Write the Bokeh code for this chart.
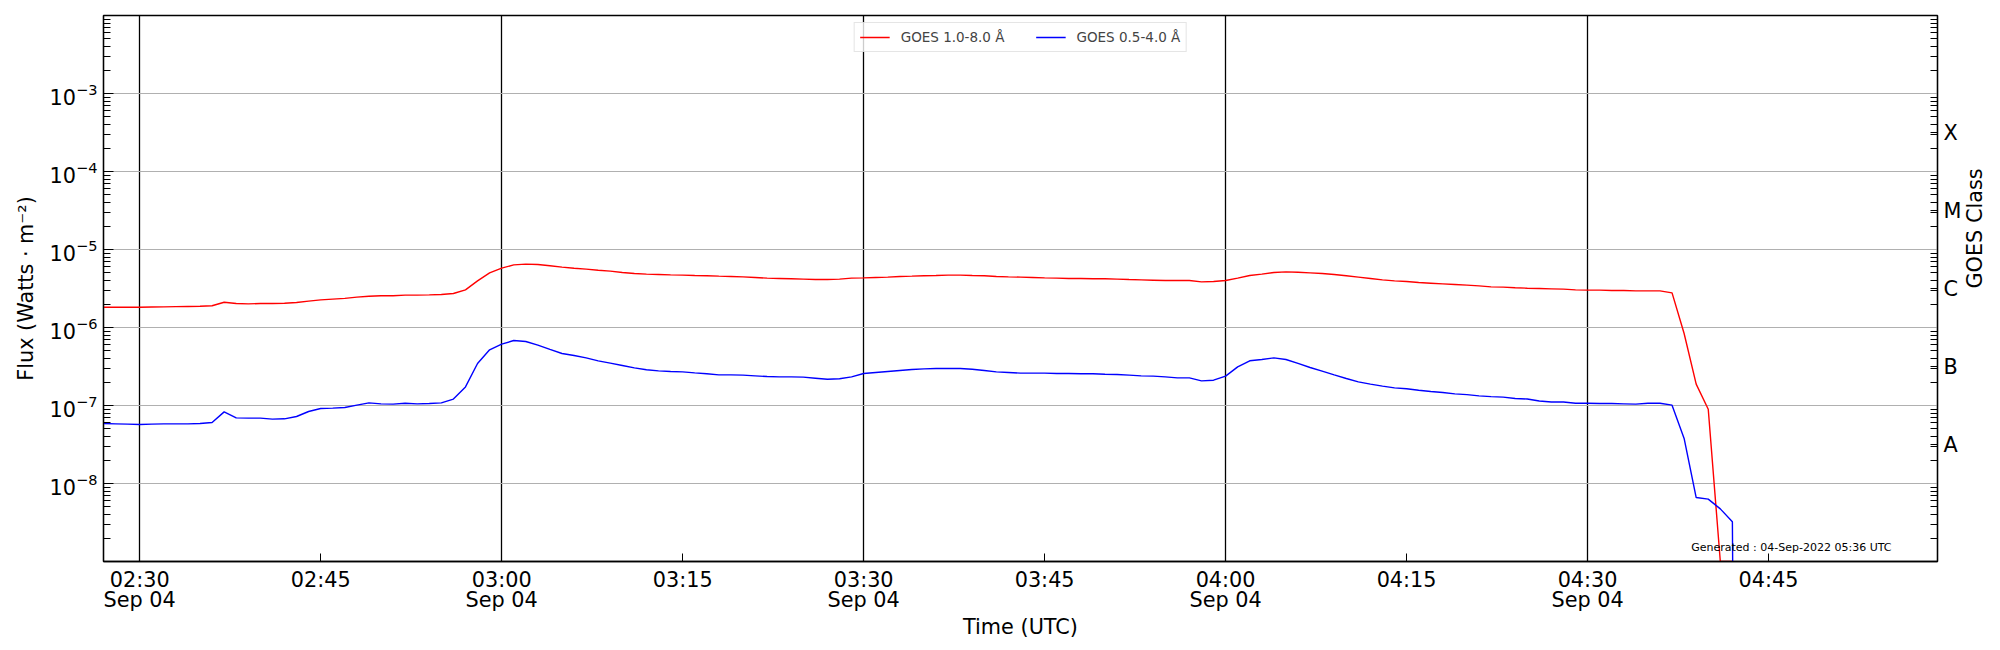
import math
import numpy as np
import pandas as pd
from bokeh.plotting import figure
from bokeh.models import LogAxis, FixedTicker, CustomJSTickFormatter, Label, Range1d
from bokeh.embed import file_html
from bokeh.resources import INLINE

# ---------------- data ----------------
start_time = "2022-09-04 02:27"          # first 1-minute sample
x_start = "2022-09-04 02:27"
x_end = "2022-09-04 04:59"
y_min, y_max = 1e-9, 1e-2

# GOES 1.0-8.0 Å (W m^-2), 1-minute cadence
flux_long = [
    1.82e-6, 1.82e-6, 1.82e-6, 1.82e-6, 1.83e-6, 1.84e-6, 1.85e-6, 1.86e-6, 1.87e-6, 1.90e-6,
    2.11e-6, 2.03e-6, 2.01e-6, 2.03e-6, 2.03e-6, 2.05e-6, 2.09e-6, 2.18e-6, 2.26e-6, 2.31e-6,
    2.36e-6, 2.45e-6, 2.52e-6, 2.55e-6, 2.55e-6, 2.60e-6, 2.60e-6, 2.62e-6, 2.65e-6, 2.73e-6,
    3.04e-6, 3.96e-6, 5.02e-6, 5.77e-6, 6.35e-6, 6.49e-6, 6.43e-6, 6.18e-6, 5.94e-6, 5.76e-6,
    5.60e-6, 5.43e-6, 5.28e-6, 5.07e-6, 4.92e-6, 4.83e-6, 4.78e-6, 4.73e-6, 4.69e-6, 4.64e-6,
    4.60e-6, 4.55e-6, 4.51e-6, 4.46e-6, 4.38e-6, 4.29e-6, 4.25e-6, 4.21e-6, 4.17e-6, 4.12e-6,
    4.12e-6, 4.17e-6, 4.29e-6, 4.33e-6, 4.38e-6, 4.42e-6, 4.51e-6, 4.55e-6, 4.60e-6, 4.64e-6,
    4.69e-6, 4.69e-6, 4.64e-6, 4.60e-6, 4.51e-6, 4.46e-6, 4.42e-6, 4.38e-6, 4.33e-6, 4.29e-6,
    4.25e-6, 4.25e-6, 4.21e-6, 4.21e-6, 4.17e-6, 4.12e-6, 4.08e-6, 4.04e-6, 4.00e-6, 4.00e-6,
    4.00e-6, 3.85e-6, 3.89e-6, 4.00e-6, 4.29e-6, 4.64e-6, 4.83e-6, 5.07e-6, 5.17e-6, 5.12e-6,
    5.02e-6, 4.92e-6, 4.78e-6, 4.60e-6, 4.42e-6, 4.25e-6, 4.08e-6, 3.96e-6, 3.89e-6, 3.77e-6,
    3.70e-6, 3.63e-6, 3.56e-6, 3.49e-6, 3.42e-6, 3.32e-6, 3.29e-6, 3.23e-6, 3.19e-6, 3.16e-6,
    3.13e-6, 3.10e-6, 3.04e-6, 3.01e-6, 3.01e-6, 2.98e-6, 2.98e-6, 2.95e-6, 2.95e-6, 2.95e-6,
    2.78e-6, 8.38e-7, 1.88e-7, 8.97e-8, 1.0e-9, 1.0e-9, 0.0,
]

# GOES 0.5-4.0 Å (W m^-2), 1-minute cadence
flux_short = [
    5.87e-8, 5.82e-8, 5.77e-8, 5.71e-8, 5.77e-8, 5.82e-8, 5.82e-8, 5.82e-8, 5.87e-8, 6.05e-8,
    8.29e-8, 6.95e-8, 6.89e-8, 6.89e-8, 6.68e-8, 6.75e-8, 7.23e-8, 8.38e-8, 9.16e-8, 9.25e-8,
    9.42e-8, 1.01e-7, 1.08e-7, 1.05e-7, 1.04e-7, 1.07e-7, 1.05e-7, 1.06e-7, 1.08e-7, 1.21e-7,
    1.73e-7, 3.45e-7, 5.18e-7, 6.11e-7, 6.81e-7, 6.62e-7, 5.94e-7, 5.23e-7, 4.64e-7, 4.38e-7,
    4.08e-7, 3.74e-7, 3.49e-7, 3.26e-7, 3.04e-7, 2.87e-7, 2.78e-7, 2.73e-7, 2.70e-7, 2.62e-7,
    2.55e-7, 2.47e-7, 2.47e-7, 2.45e-7, 2.40e-7, 2.35e-7, 2.33e-7, 2.33e-7, 2.31e-7, 2.24e-7,
    2.17e-7, 2.20e-7, 2.33e-7, 2.57e-7, 2.65e-7, 2.73e-7, 2.81e-7, 2.89e-7, 2.95e-7, 2.98e-7,
    2.98e-7, 2.98e-7, 2.92e-7, 2.81e-7, 2.70e-7, 2.65e-7, 2.60e-7, 2.60e-7, 2.60e-7, 2.57e-7,
    2.57e-7, 2.55e-7, 2.55e-7, 2.52e-7, 2.50e-7, 2.45e-7, 2.40e-7, 2.38e-7, 2.33e-7, 2.26e-7,
    2.26e-7, 2.07e-7, 2.11e-7, 2.38e-7, 3.13e-7, 3.74e-7, 3.89e-7, 4.08e-7, 3.89e-7, 3.46e-7,
    3.07e-7, 2.76e-7, 2.47e-7, 2.22e-7, 2.01e-7, 1.88e-7, 1.77e-7, 1.68e-7, 1.64e-7, 1.57e-7,
    1.51e-7, 1.47e-7, 1.41e-7, 1.38e-7, 1.33e-7, 1.30e-7, 1.28e-7, 1.23e-7, 1.21e-7, 1.14e-7,
    1.11e-7, 1.11e-7, 1.07e-7, 1.07e-7, 1.06e-7, 1.06e-7, 1.05e-7, 1.04e-7, 1.07e-7, 1.07e-7,
    1.01e-7, 3.78e-8, 6.61e-9, 6.30e-9, 4.73e-9, 3.23e-9, 0.0,
]

series_names = ["GOES 1.0-8.0 Å", "GOES 0.5-4.0 Å"]
series_colors = ["#ff0000", "#0000ff"]

tick_times = ["02:30", "02:45", "03:00", "03:15", "03:30", "03:45",
              "04:00", "04:15", "04:30", "04:45"]
tick_labels = ["02:30\nSep 04", "02:45", "03:00\nSep 04", "03:15", "03:30\nSep 04", "03:45",
               "04:00\nSep 04", "04:15", "04:30\nSep 04", "04:45"]
tick_date = "2022-09-04"

decade_exponents = [-8, -7, -6, -5, -4, -3]
class_labels = ["A", "B", "C", "M", "X"]
class_exponents = [-7.5, -6.5, -5.5, -4.5, -3.5]

generated_text = "Generated : 04-Sep-2022 05:36 UTC"
generated_at = ("2022-09-04 04:55:11", 1.5e-9)

FONT = "DejaVu Sans"
SIZE = "20.8px"

# ---------------- helpers ----------------
def ms(ts):
    return pd.Timestamp(ts).value / 1e6

times = pd.date_range(start_time, periods=len(flux_long), freq="1min")
# like matplotlib's log 'clip': non-positive values become tiny positive numbers
y_long = np.clip(np.array(flux_long), 1e-30, None)
y_short = np.clip(np.array(flux_short), 1e-30, None)

tick_ms = [ms(f"{tick_date} {t}") for t in tick_times]
grid_ms = [m for m, lab in zip(tick_ms, tick_labels) if "\n" in lab]
minor_pos = [m * 10.0 ** n for n in range(-9, -2) for m in range(2, 10)]

p = figure(
    x_axis_type="datetime", y_axis_type="log",
    x_range=Range1d(pd.Timestamp(x_start), pd.Timestamp(x_end)),
    y_range=Range1d(y_min, y_max),
    frame_width=1834, frame_height=546,
    min_border_left=103, min_border_right=55, min_border_top=15, min_border_bottom=78,
    output_backend="svg", toolbar_location=None,
    background_fill_color="white", border_fill_color="white",
)
p.outline_line_color = "black"
p.outline_line_width = 1.3
p.outline_line_alpha = 1.0

# grids
p.xgrid.ticker = FixedTicker(ticks=grid_ms)
p.xgrid.grid_line_color = "black"
p.xgrid.grid_line_width = 1.3
p.xgrid.grid_line_alpha = 1.0
p.ygrid.ticker = FixedTicker(ticks=[10.0 ** e for e in decade_exponents])
p.ygrid.grid_line_color = "#b0b0b0"
p.ygrid.grid_line_width = 1.1
p.ygrid.grid_line_alpha = 1.0

# lines
p.line(times, y_long, color=series_colors[0], line_width=1.4, legend_label=series_names[0])
p.line(times, y_short, color=series_colors[1], line_width=1.4, legend_label=series_names[1])

# bottom axis
xa = p.xaxis[0]
xa.ticker = FixedTicker(ticks=tick_ms, minor_ticks=[])
xa.formatter = CustomJSTickFormatter(args=dict(positions=tick_ms, texts=tick_labels), code="""
for (let i = 0; i < positions.length; i++) {
  if (Math.abs(positions[i] - tick) < 1000) return texts[i];
}
return "";
""")
xa.axis_label = "Time (UTC)"
xa.major_tick_in = 8
xa.major_tick_out = 0
xa.minor_tick_in = 0
xa.minor_tick_out = 0
xa.major_label_standoff = 6
xa.major_label_text_line_height = 0.85
xa.axis_label_standoff = 0

# left axis
ya = p.yaxis[0]
ya.ticker = FixedTicker(ticks=[10.0 ** e for e in decade_exponents], minor_ticks=minor_pos)
ya.axis_label = "Flux (Watts · m⁻²)"
ya.major_tick_in = 10
ya.major_tick_out = 0
ya.minor_tick_in = 7
ya.minor_tick_out = 0
ya.major_label_standoff = 6
ya.axis_label_standoff = 9

# right axis (GOES class)
ra = LogAxis(
    ticker=FixedTicker(ticks=[10.0 ** e for e in class_exponents], minor_ticks=minor_pos),
    formatter=CustomJSTickFormatter(args=dict(exps=class_exponents, names=class_labels), code="""
const e = Math.log10(tick);
for (let i = 0; i < exps.length; i++) {
  if (Math.abs(e - exps[i]) < 1e-6) return names[i];
}
return "";
"""),
    axis_label="GOES Class",
)
ra.major_tick_in = 7
ra.major_tick_out = 0
ra.minor_tick_in = 7
ra.minor_tick_out = 0
ra.major_label_standoff = 6
ra.axis_label_standoff = 11
if "axis_label_orientation" in LogAxis.properties():
    ra.axis_label_orientation = math.pi / 2
p.add_layout(ra, "right")

for ax in [xa, ya, ra]:
    ax.axis_line_color = "black"
    ax.axis_line_width = 1.3
    ax.major_tick_line_color = "black"
    ax.minor_tick_line_color = "black"
    ax.major_label_text_font = FONT
    ax.major_label_text_font_size = SIZE
    ax.major_label_text_color = "black"
    ax.axis_label_text_font = FONT
    ax.axis_label_text_font_size = SIZE
    ax.axis_label_text_font_style = "normal"
    ax.axis_label_text_color = "black"

# legend
leg = p.legend[0]
leg.location = "top_center"
leg.orientation = "horizontal"
leg.margin = 7
leg.padding = 5
leg.spacing = 31
leg.label_standoff = 11
leg.glyph_width = 30
leg.glyph_height = 18
leg.label_height = 18
leg.label_text_font = FONT
leg.label_text_font_size = "13.5px"
leg.border_line_color = "#cccccc"
leg.border_line_width = 1
leg.background_fill_alpha = 0.8

# generated stamp
p.add_layout(Label(
    x=ms(generated_at[0]), y=generated_at[1], text=generated_text,
    text_align="right", text_baseline="alphabetic",
    text_font=FONT, text_font_size="11px", text_color="black",
))

open("out.html", "w").write(file_html(p, INLINE))
